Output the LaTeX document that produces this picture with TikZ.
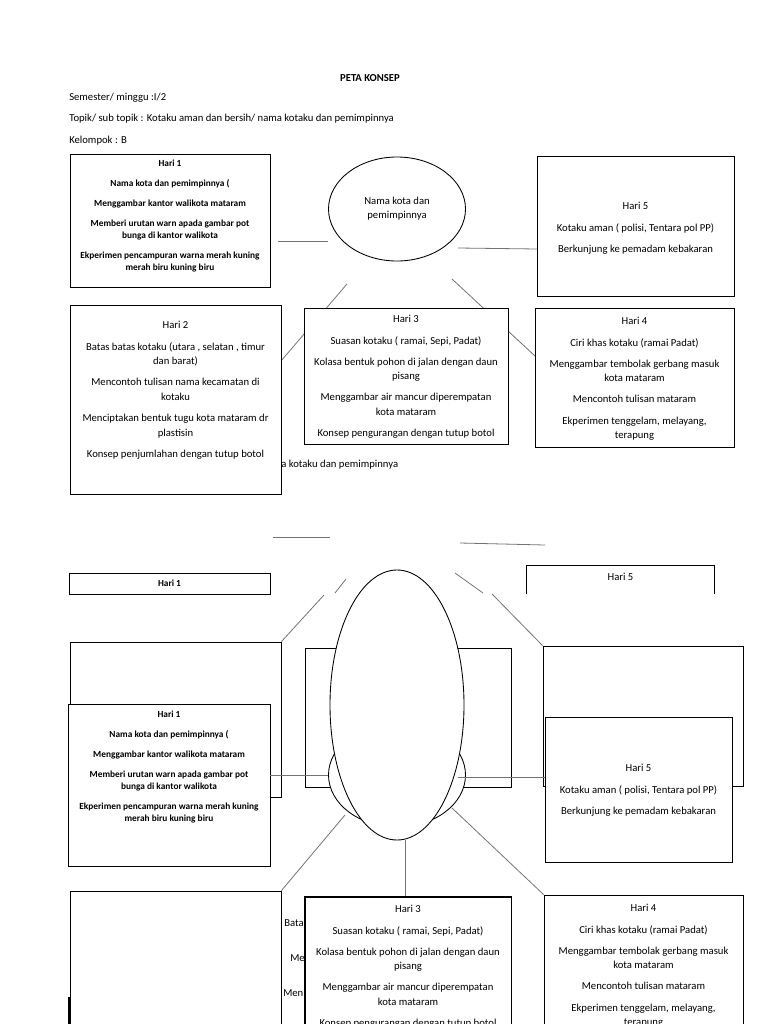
\documentclass[tikz,border=0pt]{standalone}
\usepackage{fontspec}
\setmainfont{Carlito}
\usetikzlibrary{positioning,shapes.geometric}
\newcommand{\pxu}{0.75pt}

\begin{document}
\begin{tikzpicture}[x=0.75pt,y=-0.75pt,
    box/.style={draw=black,fill=white,line width=0.65pt,inner sep=0pt},
    oval/.style={ellipse,draw=black,fill=white,line width=0.65pt,inner sep=0pt},
    link/.style={draw=black!55,line width=0.6pt},
    txt/.style={inner sep=0pt,align=center,font=\fontsize{8}{10.9}\selectfont},
    boldtxt/.style={inner sep=0pt,align=center,font=\fontsize{7}{9}\selectfont\bfseries},
    head/.style={inner sep=0pt,anchor=west,font=\fontsize{8}{9}\selectfont}]
  \useasboundingbox (0,0) rectangle (768,1024);
  \clip (0,0) rectangle (768,1024);

  % header
  \node[inner sep=0pt,font=\fontsize{8}{9}\selectfont\bfseries] (title) at (370,78) {PETA KONSEP};
  \node[head] (sem) at (69,98) {Semester/ minggu :I/2};
  \node[head] (topik) at (69,119) {Topik/ sub topik : Kotaku aman dan bersih/ nama kotaku dan pemimpinnya};
  \node[head] (kel) at (69,141) {Kelompok : B};

  % first map
  \coordinate (a1) at (278,241);  \coordinate (a2) at (328,241);
  \coordinate (b1) at (458,248);  \coordinate (b2) at (537,249);
  \coordinate (c1) at (347,284);  \coordinate (c2) at (281,361);
  \coordinate (d1) at (452,279);  \coordinate (d2) at (535,356);
  \draw[link] (a1) -- (a2);
  \draw[link] (b1) -- (b2);
  \draw[link] (c1) -- (c2);
  \draw[link] (d1) -- (d2);
  \node[head] (frag1) at (281,465) {a kotaku dan pemimpinnya};

  \node[box,minimum width=200*\pxu,minimum height=133*\pxu] (h1) at (170,220.5) {};
  \node[boldtxt,below=4.5pt of h1.north] (h1t) {Hari 1\\[6pt]Nama kota dan pemimpinnya (\\[6pt]Menggambar kantor walikota mataram\\[6pt]Memberi urutan warn apada gambar pot\\bunga di kantor walikota\\[6pt]Ekperimen pencampuran warna merah kuning\\merah biru kuning biru};
  \node[box,minimum width=197*\pxu,minimum height=140*\pxu] (h5) at (635.5,226) {};
  \node[txt,below=35pt of h5.north] (h5t) {Hari 5\\[5pt]Kotaku aman ( polisi, Tentara pol PP)\\[5pt]Berkunjung ke pemadam kebakaran};
  \node[box,minimum width=211*\pxu,minimum height=189*\pxu] (h2) at (175.5,399.5) {};
  \node[txt,below=12.5pt of h2.north] (h2t) {Hari 2\\[5pt]Batas batas kotaku (utara , selatan , timur\\dan barat)\\[5pt]Mencontoh tulisan nama kecamatan di\\kotaku\\[5pt]Menciptakan bentuk tugu kota mataram dr\\plastisin\\[5pt]Konsep penjumlahan dengan tutup botol};
  \node[box,minimum width=204*\pxu,minimum height=136*\pxu] (h3) at (406,376) {};
  \node[txt,below=5.75pt of h3.north] (h3t) {Hari 3\\[5pt]Suasan kotaku ( ramai, Sepi, Padat)\\[5pt]Kolasa bentuk pohon di jalan dengan daun\\pisang\\[5pt]Menggambar air mancur diperempatan\\kota mataram\\[5pt]Konsep pengurangan dengan tutup botol};
  \node[box,minimum width=199*\pxu,minimum height=139*\pxu] (h4) at (634.5,377.5) {};
  \node[txt,below=7.25pt of h4.north] (h4t) {Hari 4\\[5pt]Ciri khas kotaku (ramai Padat)\\[5pt]Menggambar tembolak gerbang masuk\\kota mataram\\[5pt]Mencontoh tulisan mataram\\[5pt]Ekperimen tenggelam, melayang,\\terapung};
  \node[oval,minimum width=137*\pxu,minimum height=104*\pxu,font=\fontsize{8}{10.5}\selectfont,align=center] (topic) at (397,209) {Nama kota dan\\pemimpinnya};

  % second map, upper strip
  \coordinate (e1) at (273,537);  \coordinate (e2) at (330,537);
  \coordinate (f1) at (460,543);  \coordinate (f2) at (545,545);
  \draw[link] (e1) -- (e2);
  \draw[link] (f1) -- (f2);
  \coordinate (g1) at (346,579);  \coordinate (g2) at (335,593);
  \coordinate (k1) at (455,573);  \coordinate (k2) at (483,593);
  \draw[link] (g1) -- (g2);
  \draw[link] (k1) -- (k2);
  \node[box,minimum width=201*\pxu,minimum height=21*\pxu] (hs1) at (169.5,583.5) {};
  \node[boldtxt] (hs1t) at (hs1) {Hari 1};
  \node[inner sep=0pt,minimum width=187*\pxu,minimum height=28*\pxu] (hs5) at (620.5,580) {};
  \draw[line width=0.65pt] (hs5.south west) |- (hs5.north east) -- (hs5.south east);
  \node[txt,below=5pt of hs5.north] (hs5t) {Hari 5};

  % second map, lower part
  \node[box,minimum width=211*\pxu,minimum height=155*\pxu] (ba) at (175.5,719.5) {};
  \node[box,minimum width=206*\pxu,minimum height=139*\pxu] (bb) at (408,717.5) {};
  \node[box,minimum width=200*\pxu,minimum height=140*\pxu] (bc) at (643,716) {};
  \coordinate (m1) at (324,595);  \coordinate (n1) at (492,594);
  \draw[link] (m1) -- (ba.north east);
  \draw[link] (n1) -- (bc.north west);
  \node[box,minimum width=202*\pxu,minimum height=162*\pxu] (hl1) at (169,785) {};
  \node[boldtxt,below=5.25pt of hl1.north] (hl1t) {Hari 1\\[6pt]Nama kota dan pemimpinnya (\\[6pt]Menggambar kantor walikota mataram\\[6pt]Memberi urutan warn apada gambar pot\\bunga di kantor walikota\\[6pt]Ekperimen pencampuran warna merah kuning\\merah biru kuning biru};
  \node[oval,minimum width=137*\pxu,minimum height=104*\pxu] (oval2) at (397,775) {};
  \draw[link] (hl1.east |- oval2.west) -- (oval2.west);
  \node[oval,minimum width=134*\pxu,minimum height=270*\pxu] (oval1) at (397,705) {};
  \coordinate (p1) at (458,777);
  \node[box,minimum width=187*\pxu,minimum height=145*\pxu] (hl5) at (638.5,789.5) {};
  \node[txt,below=35.75pt of hl5.north] (hl5t) {Hari 5\\[5pt]Kotaku aman ( polisi, Tentara pol PP)\\[5pt]Berkunjung ke pemadam kebakaran};
  \draw[link] (p1) -- (p1 -| hl5.west);

  \node[box,minimum width=211*\pxu,minimum height=149*\pxu] (bd) at (175.5,965.5) {};
  \draw[line width=1.1pt] (69,997) -- (69,1030);
  \node[box,minimum width=206*\pxu,minimum height=143*\pxu] (hl3) at (408,968.5) {};
  \node[box,minimum width=199*\pxu,minimum height=145*\pxu] (hl4) at (643.5,967.5) {};
  \coordinate (q1) at (345,815);  \coordinate (r1) at (452,808);
  \coordinate (v1) at (405,840);
  \draw[link] (q1) -- (bd.north east);
  \draw[link] (r1) -- (hl4.north west);
  \draw[link] (v1) -- (v1 |- hl3.north);
  \node[head] (frag2) at (284,923) {Bata};
  \node[head] (frag3) at (290,958) {Me};
  \node[head] (frag4) at (283,993) {Men};
  \draw[line width=0.65pt] (hl3.south west) |- (hl3.north east) -- (hl3.south east);
  \node[txt,below=6.5pt of hl3.north] (hl3t) {Hari 3\\[5pt]Suasan kotaku ( ramai, Sepi, Padat)\\[5pt]Kolasa bentuk pohon di jalan dengan daun\\pisang\\[5pt]Menggambar air mancur diperempatan\\kota mataram\\[5pt]Konsep pengurangan dengan tutup botol};
  \node[txt,below=7.25pt of hl4.north] (hl4t) {Hari 4\\[5pt]Ciri khas kotaku (ramai Padat)\\[5pt]Menggambar tembolak gerbang masuk\\kota mataram\\[5pt]Mencontoh tulisan mataram\\[5pt]Ekperimen tenggelam, melayang,\\terapung};
\end{tikzpicture}
\end{document}
